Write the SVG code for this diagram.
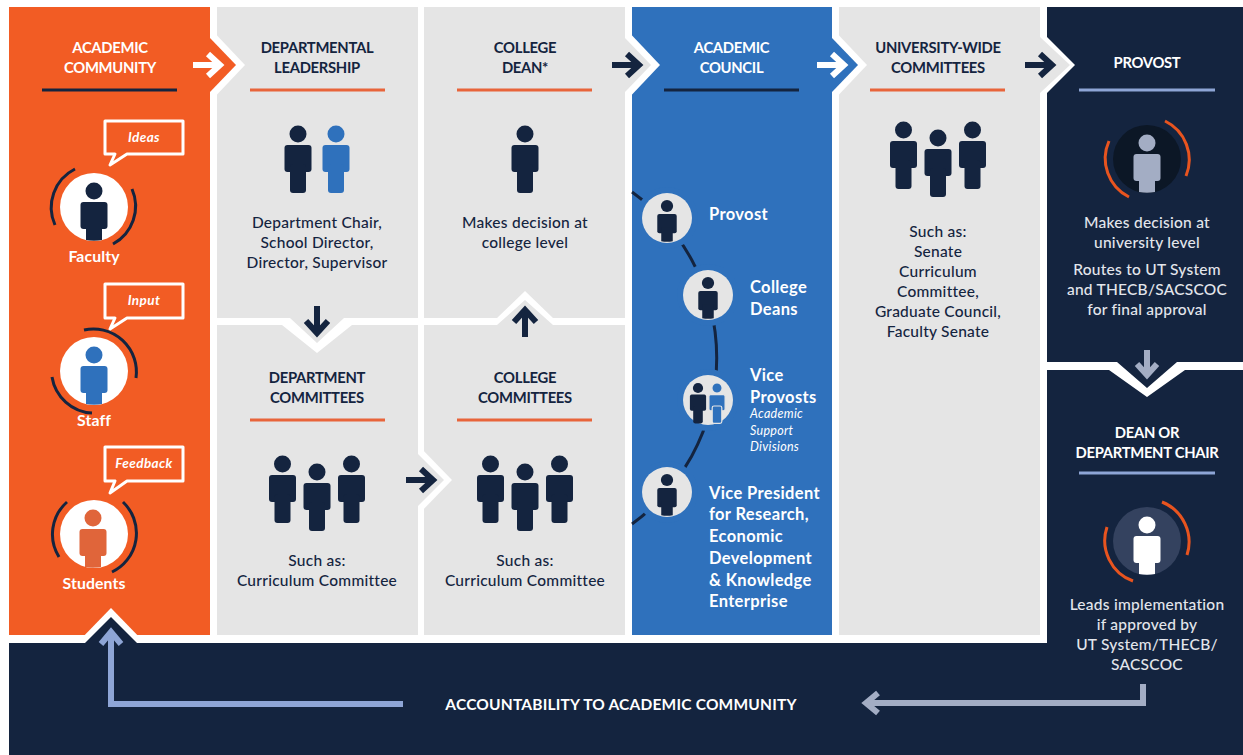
<svg xmlns="http://www.w3.org/2000/svg" width="1243" height="755" viewBox="0 0 1243 755">
<style>
text{font-family:"Lato","Noto Sans","Liberation Sans",sans-serif;text-anchor:middle}
.h{font-size:14.8px;font-weight:700;letter-spacing:-.3px}
.b{font-size:15.5px;font-weight:500;letter-spacing:.25px}
.l{font-size:16.5px;font-weight:700;text-anchor:start;fill:#fff;letter-spacing:.35px}
.f{font-size:15.8px;font-weight:700;fill:#fff;letter-spacing:.1px}
.s{font-size:12.5px;font-style:italic;text-anchor:start;fill:#fff;letter-spacing:.3px}
.q{font-size:13.5px;font-style:italic;font-weight:700;fill:#fff;letter-spacing:.4px}
.n{fill:#14243f}.w{fill:#fff}.d{fill:#e3e6ec}
.rule{stroke-width:3;fill:none}
.arc{fill:none;stroke-width:3}
.arw{fill:none;stroke-width:6}
.bub{fill:#f25c24;stroke:#fff;stroke-width:3;stroke-linejoin:round}
</style>
<defs>
<g id="p"><circle cx="0" cy="0" r="8.5"/><rect x="-13.5" y="11" width="27" height="27" rx="3"/><rect x="-8" y="30" width="16" height="29" rx="3"/></g>
<g id="pc"><circle cx="0" cy="0" r="8.5"/><rect x="-13.5" y="11" width="27" height="27" rx="3"/><path d="M-8 30V49Q0 50.5 8 49V30Z"/></g>
<g id="three"><use href="#p" x="-34.500" y="0"/><use href="#p" x="0" y="8"/><use href="#p" x="34.500" y="0"/></g>
</defs>

<rect width="1243" height="755" fill="#fff"/>

<g id="academic-community-panel"><rect x="9" y="7" width="201" height="628" fill="#f25c24"/></g>
<g id="department-leadership-panel"><path d="M217 7H418V318H344L317 343L290 318H217Z" fill="#e5e5e5"/></g>
<g id="department-committees-panel"><path d="M217 325H282L317 353L352 325H418V635H217Z" fill="#e5e5e5"/></g>
<g id="college-dean-panel"><path d="M424 7H625V318H553L525 291L497 318H424Z" fill="#e5e5e5"/></g>
<g id="college-committees-panel"><path d="M424 325H497L525 300L553 325H625V635H424Z" fill="#e5e5e5"/></g>
<g id="academic-council-panel"><rect x="632" y="7" width="200" height="628" fill="#2f71bc"/></g>
<g id="university-committees-panel"><rect x="839" y="7" width="201" height="628" fill="#e5e5e5"/></g>
<g id="provost-panel"><path d="M1047 7H1243V362H1177L1147 388L1117 362H1047Z" fill="#14243f"/></g>
<g id="bottom-panel"><path d="M1047 370H1109L1147 397L1185 370H1243V755H9V643H1047Z" fill="#14243f"/></g>

<g id="chevrons">
<path d="M210 28L245 65L210 102Z" class="w"/><path d="M210 38L236 65L210 92Z" fill="#f25c24"/>
<path d="M625 28L660 65L625 102Z" class="w"/><path d="M625 38L651 65L625 92Z" fill="#e5e5e5"/>
<path d="M832 28L867 65L832 102Z" class="w"/><path d="M832 38L858 65L832 92Z" fill="#2f71bc"/>
<path d="M1040 30L1075 65L1040 100Z" class="w"/><path d="M1040 37L1070 65L1040 93Z" fill="#e5e5e5"/>
<path d="M418 445L452 480L418 515Z" class="w"/><path d="M418 454L444 480L418 506Z" fill="#e5e5e5"/>
<path d="M77 643L111 608L145 643Z" class="w"/><path d="M85 643L111 617L137 643Z" class="n"/>
</g>

<g id="academic-community">
<text x="110" y="52.500" class="h" fill="#fff">ACADEMIC</text>
<text x="110" y="72.500" class="h" fill="#fff">COMMUNITY</text>
<path d="M42 90H177" class="rule" stroke="#14243f"/>
</g>

<g id="faculty">
<path d="M105 121H183V154H127L110 165L115 154H105Z" class="bub"/>
<text x="144" y="142" class="q">Ideas</text>
<circle cx="94" cy="207" r="34" class="w"/>
<use href="#pc" x="94" y="191" class="n"/>
<path d="M75 169A43 43 0 0 0 55 225M132 189A43 43 0 0 1 113 244" class="arc" stroke="#14243f"/>
<text x="94" y="262" class="f">Faculty</text>
</g>

<g id="staff">
<path d="M105 284H183V318H127L110 329L115 318H105Z" class="bub"/>
<text x="144" y="305" class="q">Input</text>
<circle cx="94" cy="371" r="34" class="w"/>
<use href="#pc" x="94" y="355" fill="#2f71bc"/>
<path d="M84 330A43 43 0 0 1 136 378M52 377A43 43 0 0 0 92 413" class="arc" stroke="#14243f"/>
<text x="94" y="426" class="f">Staff</text>
</g>

<g id="students">
<path d="M105 447H183V481H127L110 493L115 481H105Z" class="bub"/>
<text x="144" y="468" class="q">Feedback</text>
<circle cx="94" cy="534" r="34" class="w"/>
<use href="#pc" x="93" y="518" fill="#e0653a"/>
<path d="M67 502A43 43 0 0 0 59 557M123 502A43 43 0 0 1 112 572" class="arc" stroke="#14243f"/>
<text x="94" y="589" class="f">Students</text>
</g>

<g id="departmental-leadership">
<text x="317" y="52.500" class="h n">DEPARTMENTAL</text>
<text x="317" y="72.500" class="h n">LEADERSHIP</text>
<path d="M250 90H385" class="rule" stroke="#e8643a"/>
<use href="#p" x="298" y="134" class="n"/>
<use href="#p" x="336" y="134" fill="#2f71bc"/>
<text x="317" y="228" class="b n">Department Chair,</text>
<text x="317" y="248" class="b n">School Director,</text>
<text x="317" y="268" class="b n">Director, Supervisor</text>
</g>

<g id="department-committees">
<text x="317" y="382.500" class="h n">DEPARTMENT</text>
<text x="317" y="402.500" class="h n">COMMITTEES</text>
<path d="M250 420H385" class="rule" stroke="#e8643a"/>
<use href="#three" x="317" y="464" class="n"/>
<text x="317" y="566" class="b n">Such as:</text>
<text x="317" y="586" class="b n">Curriculum Committee</text>
</g>

<g id="college-dean">
<text x="525" y="52.500" class="h n">COLLEGE</text>
<text x="525" y="72.500" class="h n">DEAN*</text>
<path d="M457 90H592" class="rule" stroke="#e8643a"/>
<use href="#p" x="525" y="134" class="n"/>
<text x="525" y="228" class="b n">Makes decision at</text>
<text x="525" y="248" class="b n">college level</text>
</g>

<g id="college-committees">
<text x="525" y="382.500" class="h n">COLLEGE</text>
<text x="525" y="402.500" class="h n">COMMITTEES</text>
<path d="M457 420H592" class="rule" stroke="#e8643a"/>
<use href="#three" x="525" y="464" class="n"/>
<text x="525" y="566" class="b n">Such as:</text>
<text x="525" y="586" class="b n">Curriculum Committee</text>
</g>

<g id="academic-council">
<text x="731.500" y="52.500" class="h" fill="#fff">ACADEMIC</text>
<text x="731.500" y="72.500" class="h" fill="#fff">COUNCIL</text>
<path d="M664 90H799" class="rule" stroke="#14243f"/>
<path d="M632 192A205 205 0 0 1 632 524" fill="none" stroke="#14243f" stroke-width="3"/>
<g fill="#2f71bc"><circle cx="667" cy="218" r="31"/><circle cx="708" cy="295" r="31"/><circle cx="708" cy="400" r="31"/><circle cx="667" cy="492" r="31"/></g>
<g fill="#e5e5e5"><circle cx="667" cy="218" r="25"/><circle cx="708" cy="295" r="25"/><circle cx="708" cy="400" r="25"/><circle cx="667" cy="492" r="25"/></g>
<use href="#pc" transform="translate(667 206) scale(.72)" class="n"/>
<use href="#pc" transform="translate(708 283) scale(.72)" class="n"/>
<use href="#pc" transform="translate(667 480) scale(.72)" class="n"/>
<use href="#p" transform="translate(717 388) scale(.6)" fill="#2f71bc" stroke="#e5e5e5" stroke-width="2"/>
<use href="#p" transform="translate(698 388) scale(.6)" class="n"/>
<text x="709" y="220" class="l">Provost</text>
<text x="750" y="293" class="l">College</text>
<text x="750" y="315" class="l">Deans</text>
<text x="750" y="381" class="l">Vice</text>
<text x="750" y="403" class="l">Provosts</text>
<text x="750" y="418" class="s">Academic</text>
<text x="750" y="435" class="s">Support</text>
<text x="750" y="451" class="s">Divisions</text>
<text x="709" y="499" class="l">Vice President</text>
<text x="709" y="520" class="l">for Research,</text>
<text x="709" y="542" class="l">Economic</text>
<text x="709" y="564" class="l">Development</text>
<text x="709" y="586" class="l">&amp; Knowledge</text>
<text x="709" y="607" class="l">Enterprise</text>
</g>

<g id="university-wide-committees">
<text x="938" y="52.500" class="h n">UNIVERSITY-WIDE</text>
<text x="938" y="72.500" class="h n">COMMITTEES</text>
<path d="M870 90H1005" class="rule" stroke="#e8643a"/>
<use href="#three" x="938" y="130" class="n"/>
<text x="938" y="237" class="b n">Such as:</text>
<text x="938" y="257" class="b n">Senate</text>
<text x="938" y="277" class="b n">Curriculum</text>
<text x="938" y="297" class="b n">Committee,</text>
<text x="938" y="317" class="b n">Graduate Council,</text>
<text x="938" y="337" class="b n">Faculty Senate</text>
</g>

<g id="provost">
<text x="1147" y="67.500" class="h" fill="#fff">PROVOST</text>
<path d="M1079 90H1215" class="rule" stroke="#8ea5d6"/>
<circle cx="1147" cy="159" r="34" fill="#0c1726"/>
<use href="#pc" x="1147" y="143" fill="#a3adc4"/>
<path d="M1165 121A43 43 0 0 1 1186 176M1109 141A43 43 0 0 0 1129 197" class="arc" stroke="#e8541f"/>
<text x="1147" y="227.500" class="b d">Makes decision at</text>
<text x="1147" y="247.500" class="b d">university level</text>
<text x="1147" y="274.500" class="b d">Routes to UT System</text>
<text x="1147" y="294.500" class="b d">and THECB/SACSCOC</text>
<text x="1147" y="314.500" class="b d">for final approval</text>
</g>

<g id="dean-or-department-chair">
<text x="1147" y="437.500" class="h" fill="#fff">DEAN OR</text>
<text x="1147" y="457.500" class="h" fill="#fff">DEPARTMENT CHAIR</text>
<path d="M1079 473H1215" class="rule" stroke="#8ea5d6"/>
<circle cx="1147" cy="541" r="34" fill="#34425f"/>
<use href="#pc" x="1147" y="525" class="w"/>
<path d="M1162 502A43 43 0 0 1 1187 555M1107 527A43 43 0 0 0 1133 581" class="arc" stroke="#e8541f"/>
<text x="1147" y="609.500" class="b d">Leads implementation</text>
<text x="1147" y="629.500" class="b d">if approved by</text>
<text x="1147" y="649.500" class="b d">UT System/THECB/</text>
<text x="1147" y="669.500" class="b d">SACSCOC</text>
</g>

<g id="accountability">
<text x="621" y="709.500" class="h" fill="#fff" style="font-size:15.500px;letter-spacing:.2px">ACCOUNTABILITY TO ACADEMIC COMMUNITY</text>
</g>

<g id="connectors">
<g class="arw" stroke="#fff"><path d="M193 65H220M208 54L220 65L208 76M817 65H844M832 54L844 65L832 76"/></g>
<g class="arw" stroke="#14243f"><path d="M612 65H639M627 54L639 65L627 76M1025 65H1052M1040 54L1052 65L1040 76M406 480H433M421 469L433 480L421 491M317 306V333M306 321L317 333L328 321M525 337V310M514 322L525 310L536 322"/></g>
<path d="M1147 350V375M1137 364L1147 375L1157 364" class="arw" stroke="#a3adc4"/>
<path d="M403 704H111V632M101 644L111 632L121 644" class="arw" stroke="#8ea5d6"/>
<path d="M1143 684V703H866M878 693L866 703L878 713" class="arw" stroke="#a3adc4"/>
</g>
</svg>
